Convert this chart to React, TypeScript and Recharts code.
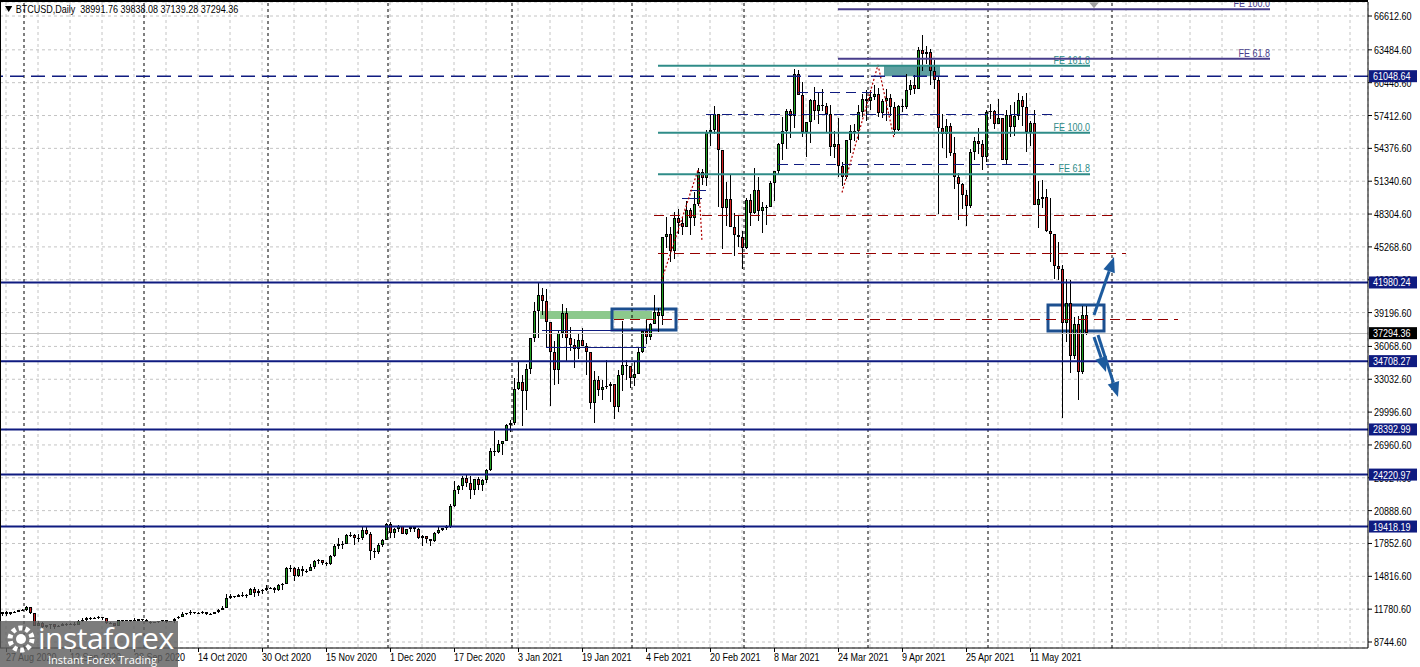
import React from 'react';
import {
  ComposedChart,
  Bar,
  XAxis,
  YAxis,
  CartesianGrid,
  ReferenceLine,
  ReferenceArea,
  ReferenceDot,
} from 'recharts';

const FONT = '"Liberation Sans", Arial, sans-serif';
const SQUEEZE = 0.82; // the terminal font is narrower than Liberation Sans

const NAVY = '#0f1b80';
const TEAL = '#2f8c88';
const SLATE = '#483d8b';
const MAROON = '#960000';
const BOX_BLUE = '#1c4f8f';
const ARROW_BLUE = '#1d5b9e';
const GRID = '#c4c4c4';
const BULL = '#20a020';
const BEAR = '#d42020';

// one label every 16 daily bars, first one on the bar of 27 Aug 2020
const DATE_LABELS = [
  '27 Aug 2020', '12 Sep 2020', '28 Sep 2020', '14 Oct 2020', '30 Oct 2020', '15 Nov 2020',
  '1 Dec 2020', '17 Dec 2020', '3 Jan 2021', '19 Jan 2021', '4 Feb 2021', '20 Feb 2021',
  '8 Mar 2021', '24 Mar 2021', '9 Apr 2021', '25 Apr 2021', '11 May 2021',
];

// daily bars 26 Aug 2020 .. 25 May 2021 (no bar on 1 Jan)
const OPEN = [
  // Aug
  11366, 11485, 11325, 11541, 11508, 11713,
  // Sep
  11679, 11964, 11408, 10230, 10512, 10168, 10281, 10369, 10134, 10232, 10370, 10410, 10452, 10328, 10677,
  10797, 10973, 10951, 10933, 11095, 10934, 10459, 10535, 10225, 10762, 10696, 10746, 10775, 10710, 10843,
  // Oct
  10795, 10619, 10575, 10550, 10676, 10796, 10603, 10670, 10927, 11059, 11297, 11392, 11548, 11429, 11426, 11503,
  11322, 11355, 11496, 11745, 11914, 12801, 12971, 12932, 13109, 13031, 13075, 13654, 13272, 13437, 13546,
  // Nov
  13781, 13737, 13551, 14025, 14133, 15579, 15565, 14833, 15479, 15332, 15290, 15701, 16276, 16317, 16068,
  15955, 16716, 17645, 17804, 17817, 18621, 18642, 18370, 18364, 19107, 18732, 17150, 17108, 17718, 18177,
  // Dec
  19625, 18802, 19201, 19445, 18699, 19154, 19345, 19191, 18321, 18553, 18264, 18058, 18803, 19142, 19246, 19417,
  21310, 22805, 23137, 23869, 23477, 22803, 23783, 23241, 23735, 24664, 26437, 26272, 27084, 27362, 28841,
  // Jan
  29001, 32127, 32782, 31971, 33992, 36824, 39371, 40797, 40254, 38356, 35566, 33922, 37316, 39187, 36825,
  36178, 35792, 36630, 36070, 35548, 30826, 33006, 32068, 32289, 32367, 32569, 30433, 33467, 34317, 34270,
  // Feb
  33115, 33537, 35510, 37473, 36926, 38144, 39266, 38903, 46196, 46481, 44918, 47909, 47504, 47105,
  48717, 47945, 49199, 52149, 51679, 55888, 56099, 57539, 54207, 48825, 49705, 47093, 46339, 46188,
  // Mar
  45137, 49631, 48378, 50538, 48561, 48927, 48912, 51206, 52246, 54824, 56008, 57805, 57332, 61243, 59302, 55907,
  56804, 58870, 57858, 58346, 58313, 57523, 54529, 54738, 52774, 51704, 55137, 55974, 55947, 57750, 58918,
  // Apr
  58800, 59095, 59384, 57604, 58760, 59057, 58192, 56048, 58324, 58245, 59793, 60204, 59893, 63503, 63109,
  63314, 61572, 60684, 56216, 55724, 56473, 53906, 51762, 51093, 50050, 49004, 54021, 55033, 54824, 53555,
  // May
  57750, 57828, 56631, 57200, 53333, 57424, 56396, 57356, 58803, 58232, 55859, 56704, 49150,
  49716, 49880, 46760, 46456, 43537, 43200, 38250, 40100, 35200, 38100, 33700, 38991.76,
];

const HIGH = [
  11530, 11570, 11545, 11585, 11715, 11768,
  12067, 11964, 11443, 10663, 10581, 10354, 10399, 10414, 10350, 10507, 10494, 10476, 10582, 10800, 10938,
  11100, 11037, 11034, 11172, 11095, 10988, 10575, 10537, 10779, 10783, 10794, 10799, 10933, 10860, 10856,
  10915, 10660, 10598, 10686, 10794, 10796, 10680, 10939, 11103, 11491, 11428, 11698, 11548, 11539, 11569, 11505,
  11386, 11483, 11799, 12028, 13184, 13155, 13024, 13145, 13330, 13225, 13759, 13837, 13612, 13652, 14028,
  13862, 13817, 14067, 14218, 15706, 15903, 15646, 15637, 15785, 15460, 15943, 16320, 16463, 16317, 16100,
  16820, 17815, 18393, 18119, 18773, 18936, 18700, 18773, 19390, 19484, 18915, 17435, 17854, 18283, 19750,
  19845, 19308, 19566, 19512, 19160, 19390, 19411, 19283, 18639, 18557, 18268, 18917, 19381, 19305, 19525, 21458,
  23642, 23238, 24085, 24295, 24102, 23837, 24024, 23783, 24711, 26718, 28288, 27389, 27370, 28937, 29244,
  33155, 34608, 33440, 34437, 36879, 40180, 41946, 41436, 41420, 38346, 36568, 37599, 39966, 39577, 37864,
  36722, 37299, 37755, 36415, 35552, 33811, 33360, 32944, 34802, 32794, 32564, 33858, 38406, 34834, 34288,
  34638, 35896, 37480, 38592, 38225, 40846, 39621, 46204, 48003, 47145, 48463, 48745, 48047, 49487,
  48875, 50341, 52533, 52474, 56113, 57505, 58330, 57533, 54204, 51290, 51948, 48370, 48253, 46716,
  49784, 50127, 52535, 51735, 49396, 49147, 51384, 52314, 54904, 57258, 58012, 57996, 61683, 61597, 60540, 56833,
  58970, 60048, 59498, 59878, 58584, 58367, 55985, 57200, 53130, 55137, 56568, 56610, 58343, 59447, 59800,
  59754, 60267, 59992, 58914, 59891, 59447, 58650, 58387, 58924, 61276, 60689, 61200, 63742, 64863, 63800,
  63594, 62506, 61057, 57527, 57062, 56758, 55410, 52120, 51167, 50506, 54288, 55416, 56228, 55173, 57925,
  58448, 57902, 58973, 57204, 57936, 58360, 58644, 59464, 59210, 59519, 56872, 57939, 51330,
  51438, 50639, 49783, 46456, 45743, 43600, 42300, 42200, 38800, 38900, 39800, 39838.08,
];

const LOW = [
  11163, 11185, 11286, 11466, 11492, 11598,
  11601, 11290, 10182, 10207, 9926, 10056, 9916, 9921, 10118, 10200, 10206, 10359, 10260, 10272, 10633,
  10700, 10774, 10829, 10906, 10798, 10380, 10409, 10197, 10216, 10589, 10665, 10635, 10691, 10649, 10705,
  10557, 10416, 10504, 10534, 10634, 10531, 10567, 10543, 10846, 11059, 11282, 11267, 11321, 11307, 11303, 11254,
  11285, 11347, 11414, 11697, 11900, 12716, 12822, 12885, 12920, 12821, 13060, 12932, 12980, 13136, 13467,
  13628, 13290, 13484, 13544, 14102, 15206, 14426, 14744, 14865, 15090, 15276, 15450, 15992, 15870, 15793,
  15880, 16556, 17352, 17354, 17759, 18422, 17700, 18013, 18128, 18620, 16334, 16500, 16883, 17559, 18177,
  18330, 18350, 18925, 18697, 18590, 18897, 18925, 18269, 17650, 17911, 17619, 18031, 18734, 19012, 19079, 19298,
  21234, 22399, 22827, 23064, 22001, 22350, 22802, 22703, 23463, 24522, 25922, 26207, 25987, 27360, 28201,
  28803, 32052, 28722, 30221, 33514, 36491, 36838, 38980, 35984, 30549, 32531, 32584, 36868, 34659, 35633,
  34070, 34883, 36069, 33407, 30250, 28953, 31493, 31106, 32087, 30943, 29367, 30023, 31916, 32940, 32270,
  32384, 33489, 35443, 36317, 36658, 38138, 37446, 38076, 45166, 43881, 44187, 46424, 46392, 47114,
  46347, 47201, 49072, 51015, 50937, 54626, 55672, 48967, 45074, 47213, 47093, 44454, 45269, 43241,
  45115, 47228, 48274, 47656, 46542, 47257, 48918, 49506, 51980, 53290, 54289, 55310, 56217, 59302, 55393, 53555,
  54894, 57023, 56643, 57820, 55880, 53650, 53470, 51700, 50855, 51580, 53962, 55071, 55139, 57251, 56863,
  57919, 58870, 57248, 57168, 56873, 57400, 55600, 55991, 57700, 58000, 59336, 59400, 59870, 61555, 62208,
  60222, 59850, 48300, 54368, 53448, 53695, 50583, 47714, 48805, 47160, 48852, 53319, 53887, 52400, 53129,
  57052, 56141, 56591, 53270, 52970, 55382, 55488, 56975, 56482, 54071, 54608, 49150, 46980,
  48868, 46664, 43864, 42255, 42250, 29450, 36500, 33600, 34900, 31100, 33500, 37139.28,
];

const CLOSE = [
  11488, 11324, 11542, 11507, 11711, 11680,
  11970, 11414, 10245, 10511, 10169, 10280, 10370, 10131, 10242, 10363, 10400, 10443, 10324, 10680, 10796,
  10974, 10948, 10944, 11094, 10938, 10462, 10539, 10246, 10760, 10692, 10750, 10775, 10709, 10844, 10784,
  10620, 10575, 10549, 10669, 10793, 10604, 10668, 10915, 11064, 11296, 11384, 11555, 11425, 11429, 11505, 11320,
  11360, 11495, 11742, 11917, 12823, 12965, 12931, 13108, 13031, 13075, 13654, 13271, 13437, 13546, 13781,
  13737, 13550, 14025, 14133, 15579, 15565, 14833, 15479, 15332, 15290, 15701, 16276, 16317, 16068, 15955,
  16716, 17645, 17804, 17817, 18621, 18642, 18370, 18364, 19107, 18732, 17150, 17108, 17718, 18177, 19625,
  18802, 19201, 19445, 18699, 19154, 19345, 19191, 18321, 18553, 18264, 18058, 18803, 19142, 19246, 19417, 21310,
  22805, 23137, 23869, 23477, 22803, 23783, 23241, 23735, 24664, 26437, 26272, 27084, 27362, 28841, 29001,
  32127, 32782, 31971, 33992, 36824, 39371, 40797, 40254, 38356, 35566, 33922, 37316, 39187, 36825, 36178,
  35792, 36630, 36070, 35548, 30826, 33006, 32068, 32289, 32367, 32569, 30433, 33467, 34317, 34270, 33115,
  33537, 35510, 37473, 36926, 38144, 39266, 38903, 46196, 46481, 44918, 47909, 47504, 47105, 48717,
  47945, 49199, 52149, 51679, 55888, 56099, 57539, 54207, 48825, 49705, 47093, 46339, 46188, 45137,
  49631, 48378, 50538, 48561, 48927, 48912, 51206, 52246, 54824, 56008, 57805, 57332, 61243, 59302, 55907, 56804,
  58870, 57858, 58346, 58313, 57523, 54529, 54738, 52774, 51704, 55137, 55974, 55947, 57750, 58918, 58800,
  59095, 59384, 57604, 58760, 59057, 58192, 56048, 58324, 58245, 59793, 60204, 59893, 63503, 63109, 63314,
  61572, 60684, 56216, 55724, 56473, 53906, 51762, 51093, 50050, 49004, 54021, 55033, 54824, 53555, 57750,
  57828, 56631, 57200, 53333, 57424, 56396, 57356, 58803, 58232, 55859, 56704, 49150, 49716,
  49880, 46760, 46456, 43537, 43200, 38250, 40100, 35200, 38100, 33700, 38960, 37294.36,
];

const PRICE_TICKS = [
  66612.6, 63484.6, 60448.6, 57412.6, 54376.6, 51340.6, 48304.6, 45268.6, 42232.6, 39196.6,
  36068.6, 33032.6, 29996.6, 26960.6, 23924.6, 20888.6, 17852.6, 14816.6, 11780.6, 8744.6,
];

const SUPPORT_LEVELS = [41980.24, 34708.27, 28392.99, 24220.97, 19418.19];
const TOP_LEVEL = 61048.64;
const LAST_PRICE = 37294.36;
const TAG_PRICES = [TOP_LEVEL, ...SUPPORT_LEVELS, LAST_PRICE];
const HEADER = 'BTCUSD,Daily  38991.76 39838.08 37139.28 37294.36';

// first bar of each month (slot index), for the period separators
const MONTH_STARTS = [6, 36, 67, 97, 128, 158, 186, 217, 247, 278];

const TEAL_FE = [
  { level: 'FE 161.8', price: 62019 },
  { level: 'FE 100.0', price: 55825 },
  { level: 'FE 61.8', price: 51980 },
];
const SLATE_FE = [
  { level: 'FE 100.0', price: 67232 },
  { level: 'FE 61.8', price: 62666 },
];

const N_SLOTS = 342;
const LABEL_BY_SLOT: Record<number, string> = {};
DATE_LABELS.forEach((s, i) => {
  LABEL_BY_SLOT[1 + 16 * i] = s;
});
const GRID_SLOTS = Array.from({ length: 43 }, (_, m) => 1 + 8 * m).filter((s) => s < N_SLOTS);

const data = Array.from({ length: N_SLOTS }, (_, i) =>
  i < CLOSE.length
    ? { slot: i, o: OPEN[i], h: HIGH[i], l: LOW[i], c: CLOSE[i], range: [LOW[i], HIGH[i]] }
    : { slot: i, range: null }
);

function NText({ x, y, anchor = 'start', fill = '#000', children }: any) {
  return (
    <text
      transform={`translate(${x} ${y}) scale(${SQUEEZE} 1)`}
      textAnchor={anchor}
      fontSize={11}
      fontFamily={FONT}
      fill={fill}
    >
      {children}
    </text>
  );
}

function Candle(props: any) {
  const { x, y, width, height, payload } = props;
  if (!payload || payload.o == null || !(height > 0)) return null;
  const { o, h, l, c } = payload;
  const py = (p: number) => y + ((h - p) / (h - l)) * height;
  const cx = Math.round(x + width / 2 - 0.5);
  const top = Math.round(py(Math.max(o, c)));
  const bot = Math.round(py(Math.min(o, c)));
  return (
    <g shapeRendering="crispEdges">
      <line x1={cx + 0.5} x2={cx + 0.5} y1={Math.round(y)} y2={Math.round(y + height)} stroke="#000" />
      {bot - top < 2 ? (
        <line x1={cx - 1} x2={cx + 2} y1={top + 0.5} y2={top + 0.5} stroke="#000" />
      ) : (
        <rect x={cx - 0.5} y={top + 0.5} width={2} height={bot - top - 1} fill={c >= o ? BULL : BEAR} stroke="#000" />
      )}
    </g>
  );
}

function DateTick({ x, y, payload }: any) {
  const label = LABEL_BY_SLOT[payload.value];
  if (!label) return null;
  return (
    <g>
      <line x1={x + 0.5} x2={x + 0.5} y1={y} y2={y + 4} stroke="#000" />
      <NText x={x} y={y + 13}>
        {label}
      </NText>
    </g>
  );
}

function PriceTick({ x, y, payload }: any) {
  return (
    <NText x={x} y={y + 4}>
      {Number(payload.value).toFixed(2)}
    </NText>
  );
}

function TagTick({ x, y, payload }: any) {
  const v = Number(payload.value);
  const bg = v === LAST_PRICE ? '#000' : NAVY;
  const left = x - 50;
  return (
    <g>
      <rect x={left} y={y - 6} width={48} height={12} fill={bg} />
      <NText x={left + 4} y={y + 4} fill="#fff">
        {v.toFixed(2)}
      </NText>
    </g>
  );
}

function EndTag({ viewBox, text, color }: any) {
  if (!viewBox) return null;
  return (
    <NText x={viewBox.x + viewBox.width} y={viewBox.y - 2} anchor="end" fill={color}>
      {text}
    </NText>
  );
}

function Arrow(props: any) {
  const { x1, y1, x2, y2 } = props;
  if ([x1, y1, x2, y2].some((v) => v == null || isNaN(v))) return null;
  const ang = Math.atan2(y2 - y1, x2 - x1);
  const len = 15;
  const half = 6;
  const bx = x2 - len * Math.cos(ang);
  const by = y2 - len * Math.sin(ang);
  const nx = -Math.sin(ang) * half;
  const ny = Math.cos(ang) * half;
  return (
    <g>
      <line x1={x1} y1={y1} x2={bx} y2={by} stroke={ARROW_BLUE} strokeWidth={3} />
      <polygon points={`${x2},${y2} ${bx + nx},${by + ny} ${bx - nx},${by - ny}`} fill={ARROW_BLUE} />
    </g>
  );
}

function ShiftMark({ cx, cy }: any) {
  if (cx == null) return null;
  return <polygon points={`${cx - 5},${cy - 3} ${cx + 5},${cy - 3} ${cx},${cy + 3}`} fill="#a0a0a0" />;
}

export default function App() {
  return (
    <div style={{ position: 'absolute', left: 0, top: 0, width: 1420, height: 667, background: '#fff' }}>
      <ComposedChart
        width={1420}
        height={667}
        data={data}
        margin={{ top: 2, right: 0, bottom: 0, left: 0 }}
        barCategoryGap={0}
        barGap={0}
      >
        <CartesianGrid stroke={GRID} strokeDasharray="3 3" />
        <XAxis
          dataKey="slot"
          type="category"
          ticks={GRID_SLOTS}
          interval={0}
          height={19}
          tickSize={0}
          tickMargin={0}
          tick={<DateTick />}
          tickLine={false}
          axisLine={{ stroke: '#000' }}
        />
        <YAxis
          orientation="right"
          width={51}
          domain={[8190, 67907]}
          allowDataOverflow
          ticks={PRICE_TICKS}
          interval={0}
          tickSize={4}
          tickMargin={2}
          tick={<PriceTick />}
          axisLine={{ stroke: '#000' }}
          tickLine={{ stroke: '#000' }}
        />
        <YAxis
          yAxisId="tags"
          orientation="right"
          width={1}
          domain={[8190, 67907]}
          allowDataOverflow
          ticks={TAG_PRICES}
          interval={0}
          tickSize={0}
          tickMargin={0}
          tick={<TagTick />}
          axisLine={false}
          tickLine={false}
        />

        {MONTH_STARTS.map((s) => (
          <ReferenceLine key={`m${s}`} x={s} position="start" stroke="#000" strokeDasharray="3 3" />
        ))}

        <ReferenceArea x1={135} x2={162} y1={38603} y2={39343} fill="#8cc98c" fillOpacity={1} stroke="none" />
        <ReferenceArea x1={221} x2={234} y1={61048} y2={62019} fill="#5e9fa0" fillOpacity={1} stroke="none" />

        <ReferenceLine y={LAST_PRICE} stroke="#c0c0c0" shapeRendering="crispEdges" />

        <Bar dataKey="range" shape={<Candle />} isAnimationActive={false} />

        {/* navy dashed guides */}
        <ReferenceLine segment={[{ x: 176, y: 57553 }, { x: 263, y: 57553 }]} stroke={NAVY} strokeDasharray="10 6" shapeRendering="crispEdges" />
        <ReferenceLine segment={[{ x: 194, y: 52840 }, { x: 263, y: 52840 }]} stroke={NAVY} strokeDasharray="10 6" shapeRendering="crispEdges" />
        <ReferenceLine segment={[{ x: 199, y: 59560 }, { x: 219, y: 59560 }]} stroke={NAVY} strokeDasharray="10 6" shapeRendering="crispEdges" />
        <ReferenceLine segment={[{ x: 135, y: 37495 }, { x: 164, y: 37495 }]} stroke={NAVY} shapeRendering="crispEdges" />
        <ReferenceLine segment={[{ x: 136, y: 35987 }, { x: 161, y: 35987 }]} stroke={NAVY} shapeRendering="crispEdges" />
        <ReferenceLine segment={[{ x: 172, y: 50465 }, { x: 176, y: 50465 }]} stroke={NAVY} shapeRendering="crispEdges" />
        <ReferenceLine segment={[{ x: 170, y: 49760 }, { x: 175, y: 49760 }]} stroke={NAVY} shapeRendering="crispEdges" />

        {/* maroon dashed levels */}
        <ReferenceLine segment={[{ x: 163, y: 48217 }, { x: 278, y: 48217 }]} stroke={MAROON} strokeDasharray="10 6" shapeRendering="crispEdges" />
        <ReferenceLine segment={[{ x: 164, y: 44680 }, { x: 281, y: 44680 }]} stroke={MAROON} strokeDasharray="10 6" shapeRendering="crispEdges" />
        <ReferenceLine segment={[{ x: 153, y: 38603 }, { x: 294, y: 38603 }]} stroke={MAROON} strokeDasharray="10 6" shapeRendering="crispEdges" />

        {/* fibo expansion construction lines */}
        <ReferenceLine segment={[{ x: 165, y: 42300 }, { x: 174, y: 52380 }]} stroke="#b00000" strokeWidth={1.2} strokeDasharray="2 2" />
        <ReferenceLine segment={[{ x: 174, y: 52380 }, { x: 175, y: 45760 }]} stroke="#b00000" strokeWidth={1.2} strokeDasharray="2 2" />
        <ReferenceLine segment={[{ x: 210, y: 50300 }, { x: 219, y: 62100 }]} stroke="#b00000" strokeWidth={1.2} strokeDasharray="2 2" />
        <ReferenceLine segment={[{ x: 219, y: 62100 }, { x: 223, y: 55300 }]} stroke="#b00000" strokeWidth={1.2} strokeDasharray="2 2" />

        {TEAL_FE.map((f) => (
          <ReferenceLine
            key={`t${f.level}`}
            segment={[{ x: 164, y: f.price }, { x: 272, y: f.price }]}
            stroke={TEAL}
            strokeWidth={2}
            label={<EndTag text={f.level} color={TEAL} />}
          />
        ))}
        {SLATE_FE.map((f) => (
          <ReferenceLine
            key={`s${f.level}`}
            segment={[{ x: 209, y: f.price }, { x: 317, y: f.price }]}
            stroke={SLATE}
            strokeWidth={2}
            label={<EndTag text={f.level} color={SLATE} />}
          />
        ))}

        <ReferenceLine y={TOP_LEVEL} stroke={NAVY} strokeWidth={1.5} strokeDasharray="14 7" />
        {SUPPORT_LEVELS.map((v) => (
          <ReferenceLine key={`l${v}`} y={v} stroke={NAVY} strokeWidth={2} />
        ))}

        <ReferenceArea x1={153} x2={168} y1={37585} y2={39527} fill="none" fillOpacity={0} stroke={BOX_BLUE} strokeWidth={3} />
        <ReferenceArea x1={262} x2={275} y1={37493} y2={39897} fill="none" fillOpacity={0} stroke={BOX_BLUE} strokeWidth={3} />

        <ReferenceLine segment={[{ x: 273, y: 38973 }, { x: 278, y: 44335 }]} shape={<Arrow />} />
        <ReferenceLine segment={[{ x: 273, y: 36939 }, { x: 276, y: 33704 }]} shape={<Arrow />} />
        <ReferenceLine segment={[{ x: 274, y: 37124 }, { x: 279, y: 31393 }]} shape={<Arrow />} />

        <ReferenceDot x={273} y={67600} r={4} shape={<ShiftMark />} />
      </ComposedChart>

      <div
        style={{
          position: 'absolute',
          left: 0,
          top: 0,
          width: 1368,
          height: 648,
          borderLeft: '1px solid #000',
          borderTop: '2px solid #000',
          boxSizing: 'border-box',
          pointerEvents: 'none',
        }}
      />
      <div
        style={{
          position: 'absolute',
          left: 5,
          top: 3,
          font: `11px ${FONT}`,
          color: '#000',
          whiteSpace: 'pre',
          display: 'flex',
          alignItems: 'center',
          transform: `scaleX(${SQUEEZE})`,
          transformOrigin: 'left center',
        }}
      >
        <svg width={9} height={6} style={{ marginRight: 4 }}>
          <polygon points="0,0 9,0 4.5,6" fill="#000" />
        </svg>
        {HEADER}
      </div>

      <div
        style={{
          position: 'absolute',
          left: 0,
          top: 621,
          width: 178,
          height: 46,
          background: 'rgba(95,95,95,0.82)',
          color: '#fff',
          fontFamily: '"Open Sans", "DejaVu Sans", sans-serif',
        }}
      >
        <svg width={30} height={30} style={{ position: 'absolute', left: 6, top: 3 }}>
          <circle cx={15} cy={15} r={11} fill="none" stroke="#fff" strokeWidth={5} strokeDasharray="4 3" />
          <circle cx={15} cy={15} r={5} fill="#fff" />
        </svg>
        <div style={{ position: 'absolute', left: 38, top: -4, fontSize: 30, letterSpacing: -0.5 }}>instaforex</div>
        <div style={{ position: 'absolute', left: 48, top: 31, fontSize: 11 }}>Instant Forex Trading</div>
      </div>
    </div>
  );
}
